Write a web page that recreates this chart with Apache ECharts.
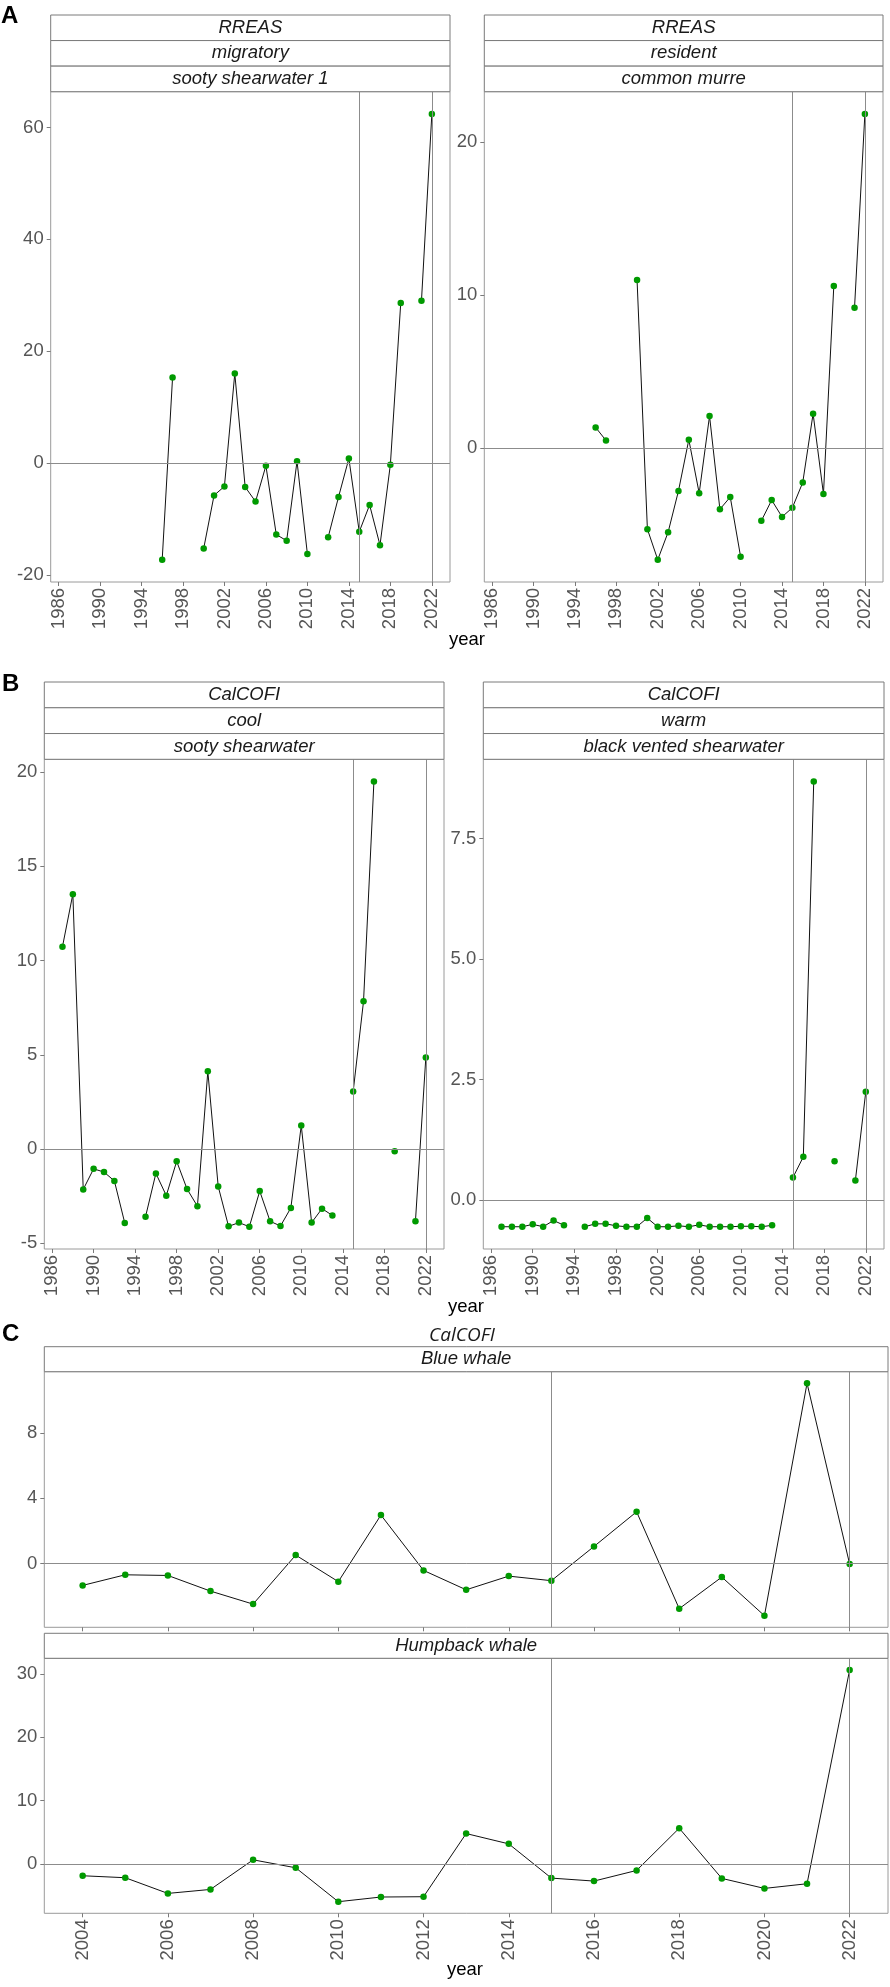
<!DOCTYPE html>
<html><head><meta charset="utf-8">
<script src="https://cdn.jsdelivr.net/npm/echarts@6/dist/echarts.min.js"></script>
<style>html,body{margin:0;padding:0;background:#fff}#c{width:890px;height:1987px}</style>
</head><body><div id="c"></div>
<script>
// ---------- DATA ----------
const yearsAB = [1987,1988,1989,1990,1991,1992,1993,1994,1995,1996,1997,1998,1999,2000,2001,2002,2003,2004,2005,2006,2007,2008,2009,2010,2011,2012,2013,2014,2015,2016,2017,2018,2019,2020,2021,2022];
const sootyShearwater1 = [null,null,null,null,null,null,null,null,null,-17.3,15.3,null,null,-15.3,-5.8,-4.2,16.0,-4.3,-6.9,-0.5,-12.8,-13.9,0.3,-16.3,null,-13.3,-6.1,0.8,-12.3,-7.5,-14.7,-0.3,28.6,null,29.0,62.4];
const commonMurre = [null,null,null,null,null,null,null,null,null,1.35,0.5,null,null,11.0,-5.3,-7.3,-5.5,-2.8,0.55,-2.95,2.1,-4.0,-3.2,-7.1,null,-4.76,-3.4,-4.5,-3.9,-2.25,2.25,-3.0,10.6,null,9.17,21.85];
const sootyShearwaterCool = [10.73,13.52,-2.14,-1.05,-1.22,-1.69,-3.92,null,-3.59,-1.29,-2.47,-0.65,-2.12,-3.03,4.12,-1.98,-4.1,-3.9,-4.12,-2.23,-3.83,-4.08,-3.12,1.25,-3.9,-3.16,-3.52,null,3.05,7.84,19.49,null,-0.11,null,-3.83,4.86];
const blackVentedShearwater = [-0.55,-0.55,-0.55,-0.50,-0.55,-0.42,-0.52,null,-0.55,-0.49,-0.49,-0.53,-0.55,-0.55,-0.37,-0.55,-0.55,-0.53,-0.55,-0.51,-0.55,-0.55,-0.55,-0.54,-0.54,-0.55,-0.52,null,0.47,0.90,8.68,null,0.81,null,0.41,2.25];
const yearsC = [2004,2005,2006,2007,2008,2009,2010,2011,2012,2013,2014,2015,2016,2017,2018,2019,2020,2021,2022];
const blueWhale = [-1.35,-0.70,-0.74,-1.70,-2.50,0.51,-1.12,2.97,-0.43,-1.62,-0.78,-1.06,1.04,3.17,-2.78,-0.84,-3.21,11.06,-0.04];
const humpbackWhale = [-1.89,-2.20,-4.68,-4.05,0.63,-0.63,-5.99,-5.25,-5.20,4.78,3.15,-2.26,-2.73,-1.05,5.62,-2.31,-3.89,-3.15,30.64];

const xTicksAB = [1986,1990,1994,1998,2002,2006,2010,2014,2018,2022];
const xTicksC = [2004,2006,2008,2010,2012,2014,2016,2018,2020,2022];
const yTicksSooty1 = [-20,0,20,40,60];
const yTicksMurre = [0,10,20];
const yTicksSootyCool = [-5,0,5,10,15,20];
const yTicksBlackVented = [0,2.5,5,7.5];
const yTicksBlue = [0,4,8];
const yTicksHumpback = [0,10,20,30];
const verticalLineYears = [2015,2022];

const stripsSooty1 = ['RREAS','migratory','sooty shearwater 1'];
const stripsMurre = ['RREAS','resident','common murre'];
const stripsSootyCool = ['CalCOFI','cool','sooty shearwater'];
const stripsBlackVented = ['CalCOFI','warm','black vented shearwater'];
const stripsBlue = ['Blue whale'];
const stripsHumpback = ['Humpback whale'];

// ---------- HELPERS ----------
const FONT = "'Liberation Sans', Arial, Helvetica, sans-serif";
function expand(arr){ const v = arr.filter(x=>x!=null); const mn=Math.min(...v), mx=Math.max(...v); const r=mx-mn; return [mn-0.05*r, mx+0.05*r]; }
function xExtent(years, seriesList){ const ys=[]; seriesList.forEach(s=>s.forEach((v,i)=>{ if(v!=null) ys.push(years[i]); })); const mn=Math.min(...ys), mx=Math.max(...ys); const r=mx-mn; return [mn-0.05*r, mx+0.05*r]; }
function pairs(years, vals){ return years.map((y,i)=> vals[i]==null ? [y,'-'] : [y, vals[i]]); }

const xAB = xExtent(yearsAB, [sootyShearwater1, commonMurre, sootyShearwaterCool, blackVentedShearwater]);
const xC = xExtent(yearsC, [blueWhale, humpbackWhale]);

// layout (pixels)
const panels = [
  {l:50.7, t:91.7, w:399.3, h:490.3, years:yearsAB, vals:sootyShearwater1, xr:xAB, xt:xTicksAB, yt:yTicksSooty1, strips:stripsSooty1, stripTop:15, fmt:v=>String(v)},
  {l:484.3, t:91.7, w:398.7, h:490.3, years:yearsAB, vals:commonMurre, xr:xAB, xt:xTicksAB, yt:yTicksMurre, strips:stripsMurre, stripTop:15, fmt:v=>String(v)},
  {l:44.3, t:759.3, w:399.7, h:489.7, years:yearsAB, vals:sootyShearwaterCool, xr:xAB, xt:xTicksAB, yt:yTicksSootyCool, strips:stripsSootyCool, stripTop:682, fmt:v=>String(v)},
  {l:483.3, t:759.3, w:400.7, h:489.7, years:yearsAB, vals:blackVentedShearwater, xr:xAB, xt:xTicksAB, yt:yTicksBlackVented, strips:stripsBlackVented, stripTop:682, fmt:v=>v.toFixed(1)},
  {l:44.3, t:1371.7, w:843.7, h:255.6, years:yearsC, vals:blueWhale, xr:xC, xt:xTicksC, yt:yTicksBlue, strips:stripsBlue, stripTop:1346.7, fmt:v=>String(v), noXLabels:true},
  {l:44.3, t:1658.3, w:843.7, h:255.0, years:yearsC, vals:humpbackWhale, xr:xC, xt:xTicksC, yt:yTicksHumpback, strips:stripsHumpback, stripTop:1633.3, fmt:v=>String(v)}
];

const grid=[], xAxis=[], yAxis=[], series=[], graphic=[];
panels.forEach((p,i)=>{
  grid.push({left:p.l, top:p.t, width:p.w, height:p.h, show:true, borderColor:'#9a9a9a', borderWidth:1, backgroundColor:'#fff', containLabel:false});
  xAxis.push({type:'value', gridIndex:i, min:p.xr[0], max:p.xr[1], splitLine:{show:false},
    axisLine:{show:false, onZero:false},
    axisTick:{show:true, length:4, lineStyle:{color:'#7a7a7a'}, customValues:p.xt},
    axisLabel:{show:!p.noXLabels, rotate:90, margin:6, color:'#555555', fontSize:18.5, fontFamily:FONT, customValues:p.xt, formatter:v=>String(v)}
  });
  const yr = expand(p.vals);
  yAxis.push({type:'value', gridIndex:i, min:yr[0], max:yr[1], splitLine:{show:false},
    axisLine:{show:false, onZero:false},
    axisTick:{show:true, length:4, lineStyle:{color:'#7a7a7a'}, customValues:p.yt},
    axisLabel:{show:true, margin:7, color:'#555555', fontSize:18.5, fontFamily:FONT, customValues:p.yt, formatter:p.fmt}
  });
  series.push({type:'line', xAxisIndex:i, yAxisIndex:i, data:[], silent:true, z:1,
    markLine:{silent:true, symbol:['none','none'], label:{show:false}, animation:false,
      lineStyle:{color:'#8c8c8c', width:1, type:'solid'},
      data:[{yAxis:0}].concat(verticalLineYears.map(y=>({xAxis:y})))}
  });
  series.push({type:'line', xAxisIndex:i, yAxisIndex:i, data:pairs(p.years,p.vals), z:3,
    connectNulls:false, showSymbol:true, showAllSymbol:true, symbol:'circle', symbolSize:6.5,
    itemStyle:{color:'#009a00', borderWidth:0}, lineStyle:{color:'#111', width:1}, animation:false, emphasis:{disabled:true}
  });
  // strips
  const n = p.strips.length;
  const rh = (p.t - p.stripTop)/n;
  p.strips.forEach((s,k)=>{
    graphic.push({type:'rect', shape:{x:p.l, y:p.stripTop+k*rh, width:p.w, height:rh}, style:{fill:'#fff', stroke:'#7a7a7a', lineWidth:1}, silent:true, z:10});
    graphic.push({type:'text', x:p.l+p.w/2, y:p.stripTop+k*rh+rh/2, style:{text:s, fill:'#1a1a1a', font:'italic 18.5px '+FONT, textAlign:'center', textVerticalAlign:'middle'}, silent:true, z:11});
  });
});

// panel letters & axis titles
[['A',1,16],['B',2,684],['C',2,1334]].forEach(([t,x,y])=>{
  graphic.push({type:'text', x:x, y:y, style:{text:t, fill:'#000', font:'bold 24px '+FONT, textAlign:'left', textVerticalAlign:'middle'}, silent:true, z:12});
});
[[467,640],[466,1307],[465,1970]].forEach(([x,y])=>{
  graphic.push({type:'text', x:x, y:y, style:{text:'year', fill:'#000', font:'18.5px '+FONT, textAlign:'center', textVerticalAlign:'middle'}, silent:true, z:12});
});
graphic.push({type:'text', x:462, y:1336, style:{text:'CalCOFI', fill:'#1a1a1a', font:"italic 19px 'Open Sans', "+FONT, textAlign:'center', textVerticalAlign:'middle'}, silent:true, z:12});

const chart = echarts.init(document.getElementById('c'), null, {renderer:'canvas'});
chart.setOption({backgroundColor:'#fff', animation:false, grid, xAxis, yAxis, series, graphic});
</script></body></html>
